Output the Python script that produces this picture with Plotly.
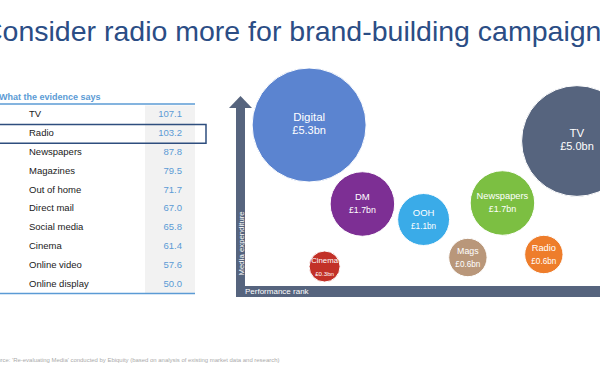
import plotly.graph_objects as go

# ---------------- data ----------------
ranks = [1, 2, 3, 4, 5, 6, 7, 8, 9, 10]
media = ["TV", "Radio", "Newspapers", "Magazines", "Out of home", "Direct mail",
         "Social media", "Cinema", "Online video", "Online display"]
scores = [107.1, 103.2, 87.8, 79.5, 71.7, 67.0, 65.8, 61.4, 57.6, 50.0]
highlight = "Radio"

bubble_labels = ["Digital", "TV", "DM", "OOH", "Newspapers", "Mags", "Radio", "Cinema"]
spend_bn = [5.3, 5.0, 1.7, 1.1, 1.7, 0.6, 0.6, 0.3]
perf_rank_pos = [19.2, 93.6, 34.0, 51.0, 72.9, 63.3, 84.4, 23.5]
media_exp_pos = [80.5, 72.5, 41.0, 33.25, 41.5, 14.25, 15.75, 9.75]

title_text = "Consider radio more for brand-building campaigns"
header_text = "What the evidence says"
source_text = ("Source: 'Re-evaluating Media' conducted by Ebiquity "
               "(based on analysis of existing market data and research)")

# ---------------- styles ----------------
W, H = 600, 372
bubble_colors = ["#5b84d0", "#56647e", "#7d2f94", "#3aabe8", "#7cbf42",
                 "#b9977a", "#ee7d2b", "#c23128"]
name_sizes = [11.5, 11.5, 9.5, 9.5, 9.3, 8.8, 9.3, 7.8]
amt_sizes = [11.0, 11.0, 8.8, 8.2, 9.0, 8.2, 8.2, 6.2]
axis_col = "#56647e"
lightblue = "#5b9bd5"
FONT = "Liberation Sans, Arial, sans-serif"


def px(x):
    return x / W


def py(y):
    return 1 - y / H


fig = go.Figure()

# ---------------- bubble chart ----------------
bubble_text = [
    f"<span style='font-size:{ns}px'>{n}</span><br>"
    f"<span style='font-size:{a}px'>£{v:.1f}bn</span>"
    for n, v, ns, a in zip(bubble_labels, spend_bn, name_sizes, amt_sizes)
]
fig.add_trace(go.Scatter(
    x=perf_rank_pos, y=media_exp_pos, mode="markers+text",
    text=bubble_text, textposition="middle center",
    textfont=dict(color="white", family=FONT, size=10),
    marker=dict(size=spend_bn, sizemode="area", sizeref=2 * 5.3 / 114 ** 2,
                sizemin=15.5, color=bubble_colors, opacity=1,
                line=dict(color="white", width=1)),
    cliponaxis=False, hoverinfo="skip", showlegend=False,
    xaxis="x", yaxis="y",
))

# ---------------- table ----------------
row_font = dict(family=FONT, size=9.5, color="#1a1a1a")
fig.add_trace(go.Scatter(
    x=[-1] * len(ranks), y=ranks, mode="text", text=[str(r) for r in ranks],
    textposition="middle center", textfont=row_font, cliponaxis=False,
    hoverinfo="skip", showlegend=False, xaxis="x2", yaxis="y2"))
fig.add_trace(go.Scatter(
    x=[29] * len(ranks), y=ranks, mode="text", text=media,
    textposition="middle right", textfont=row_font, cliponaxis=False,
    hoverinfo="skip", showlegend=False, xaxis="x2", yaxis="y2"))
fig.add_trace(go.Scatter(
    x=[182] * len(ranks), y=ranks, mode="text", text=[f"{s:.1f}" for s in scores],
    textposition="middle left", textfont=dict(family=FONT, size=9.5, color=lightblue),
    cliponaxis=False, hoverinfo="skip", showlegend=False, xaxis="x2", yaxis="y2"))

shapes = []
# grey value column
shapes.append(dict(type="rect", xref="x2", yref="y2", x0=145, x1=195, y0=0.45, y1=10.5,
                   fillcolor="#f2f2f2", line=dict(width=0), layer="below"))
# header and bottom lines
for yy in (104, 293.5):
    shapes.append(dict(type="line", xref="paper", yref="paper", x0=px(0), x1=px(195),
                       y0=py(yy), y1=py(yy), line=dict(color=lightblue, width=1.6)))
# highlight box around the Radio row
hr = ranks[media.index(highlight)]
shapes.append(dict(type="rect", xref="x2", yref="y2", x0=-8, x1=206,
                   y0=hr - 0.5, y1=hr + 0.5,
                   line=dict(color="#2e4e7e", width=1.5), fillcolor="rgba(0,0,0,0)"))

# ---------------- axis arrows ----------------
shapes.append(dict(type="rect", xref="paper", yref="paper", x0=px(236), x1=px(245),
                   y0=py(297), y1=py(107), fillcolor=axis_col, line=dict(width=0)))
shapes.append(dict(type="rect", xref="paper", yref="paper", x0=px(236), x1=px(600),
                   y0=py(297), y1=py(286), fillcolor=axis_col, line=dict(width=0)))
shapes.append(dict(type="path", xref="paper", yref="paper",
                   path=f"M {px(229)} {py(108)} L {px(252)} {py(108)} L {px(240.5)} {py(96)} Z",
                   fillcolor=axis_col, line=dict(width=0)))

annotations = [
    dict(text=title_text, xref="paper", yref="paper", x=px(-20), y=py(31),
         xanchor="left", yanchor="middle", showarrow=False,
         font=dict(family=FONT, size=28.5, color="#2b4d85")),
    dict(text=f"<b>{header_text}</b>", xref="paper", yref="paper", x=px(-3), y=py(97),
         xanchor="left", yanchor="middle", showarrow=False,
         font=dict(family=FONT, size=9, color=lightblue)),
    dict(text=source_text, xref="paper", yref="paper", x=px(-12), y=py(360),
         xanchor="left", yanchor="middle", showarrow=False,
         font=dict(family=FONT, size=5.95, color="#aaaaaa")),
    dict(text="Media expenditure", xref="paper", yref="paper", x=px(240.5), y=py(278),
         xanchor="center", yanchor="bottom", textangle=-90, showarrow=False,
         font=dict(family=FONT, size=7.8, color="white")),
    dict(text="Performance rank", xref="paper", yref="paper", x=px(243), y=py(291.5),
         xanchor="left", yanchor="middle", showarrow=False,
         font=dict(family=FONT, size=8, color="white")),
]

fig.update_layout(
    width=W, height=H, margin=dict(l=0, r=0, t=0, b=0, pad=0),
    paper_bgcolor="white", plot_bgcolor="rgba(0,0,0,0)",
    font=dict(family=FONT),
    xaxis=dict(domain=[px(240), 1], range=[0, 100], visible=False, fixedrange=True),
    yaxis=dict(domain=[py(286), py(86)], range=[0, 100], visible=False, fixedrange=True),
    xaxis2=dict(domain=[0, px(210)], range=[0, 210], visible=False, fixedrange=True),
    yaxis2=dict(domain=[py(293.6), py(105.6)], range=[10.5, 0.5], visible=False,
                fixedrange=True, anchor="x2"),
    shapes=shapes, annotations=annotations, showlegend=False,
)

fig.write_html("out.html", config={"displayModeBar": False},
               post_script="document.body.style.margin='0';document.body.style.overflow='hidden';")
